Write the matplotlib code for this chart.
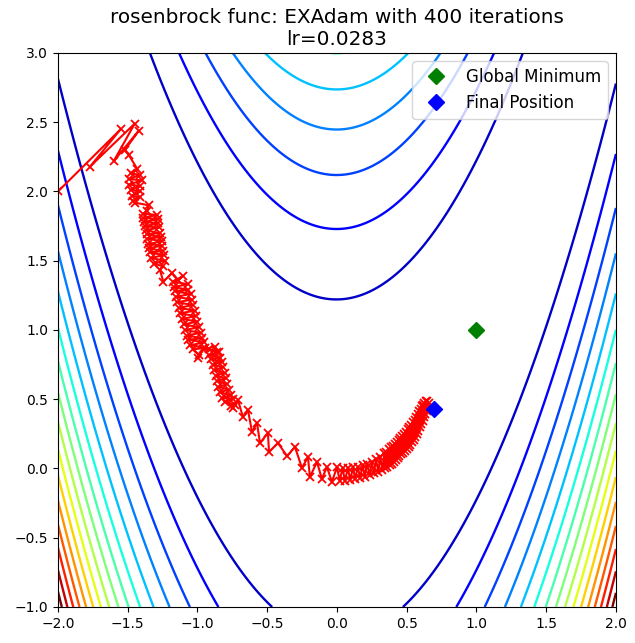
import numpy as np
import matplotlib
matplotlib.use('Agg')
import matplotlib.pyplot as plt

optimizer_name = 'EXAdam'
iterations = 400
lr = 0.0283
minimum = (1.0, 1.0)
levels = np.arange(0, 2401, 150)

# optimizer path as (x, y)
path = [
    (-2.00, 2.00), (-1.55, 2.45), (-1.77, 2.18), (-1.45, 2.49), (-1.60, 2.22),
    (-1.42, 2.44), (-1.52, 2.30), (-1.49, 2.26), (-1.43, 2.16),
    (-1.48, 2.13), (-1.41, 2.12), (-1.49, 2.09), (-1.40, 2.08), (-1.49, 2.05),
    (-1.41, 2.04), (-1.48, 2.01), (-1.41, 2.00), (-1.47, 1.97), (-1.41, 1.96),
    (-1.46, 1.93), (-1.45, 1.92),
    (-1.35, 1.90), (-1.36, 1.86),
    (-1.39, 1.84), (-1.29, 1.83), (-1.387, 1.81), (-1.285, 1.80), (-1.383, 1.78),
    (-1.281, 1.77), (-1.377, 1.75), (-1.276, 1.74), (-1.371, 1.72), (-1.271, 1.70),
    (-1.365, 1.69), (-1.265, 1.67), (-1.36, 1.66), (-1.257, 1.64), (-1.355, 1.62),
    (-1.253, 1.61), (-1.348, 1.59), (-1.247, 1.57), (-1.343, 1.56), (-1.241, 1.54),
    (-1.335, 1.52), (-1.235, 1.50), (-1.315, 1.48), (-1.25, 1.46),
    (-1.269, 1.433), (-1.245, 1.349), (-1.185, 1.409), (-1.138, 1.361), (-1.102, 1.390),
    (-1.175, 1.35), (-1.071, 1.33), (-1.17, 1.31), (-1.065, 1.29), (-1.162, 1.28),
    (-1.047, 1.26), (-1.155, 1.24), (-1.04, 1.22), (-1.145, 1.20), (-1.03, 1.18),
    (-1.135, 1.16), (-1.02, 1.14), (-1.125, 1.12), (-1.01, 1.10), (-1.11, 1.08),
    (-1.00, 1.06), (-1.10, 1.04), (-0.99, 1.02), (-1.09, 1.00), (-0.977, 0.98),
    (-1.075, 0.96), (-0.965, 0.94), (-1.065, 0.93), (-0.955, 0.91), (-1.05, 0.89),
    (-0.945, 0.87), (-1.035, 0.86), (-0.99, 0.82),
    (-0.996, 0.80), (-0.96, 0.86), (-0.875, 0.88), (-0.86, 0.84),
    (-0.92, 0.86), (-0.845, 0.84), (-0.915, 0.82), (-0.835, 0.80), (-0.905, 0.79),
    (-0.825, 0.77), (-0.89, 0.75), (-0.815, 0.73), (-0.88, 0.71), (-0.805, 0.69),
    (-0.87, 0.67), (-0.795, 0.65), (-0.86, 0.63), (-0.785, 0.61), (-0.85, 0.59),
    (-0.775, 0.57), (-0.84, 0.55), (-0.76, 0.53), (-0.825, 0.51), (-0.745, 0.50),
    (-0.805, 0.48), (-0.73, 0.46), (-0.76, 0.45), (-0.745, 0.44),
    (-0.71, 0.495), (-0.674, 0.372), (-0.638, 0.422), (-0.609, 0.264), (-0.573, 0.329),
    (-0.552, 0.184), (-0.495, 0.256), (-0.487, 0.119), (-0.423, 0.184), (-0.358, 0.090),
    (-0.301, 0.155), (-0.251, 0.004), (-0.208, 0.083), (-0.194, -0.061), (-0.143, 0.047),
    (-0.108, -0.076), (-0.072, 0.011), (-0.036, -0.097),
    (0.000, 0.010), (0.020, -0.090), (0.040, 0.005), (0.057, -0.088), (0.078, 0.002),
    (0.095, -0.082), (0.115, 0.008), (0.130, -0.076), (0.150, 0.013), (0.165, -0.071),
    (0.185, 0.025), (0.200, -0.062), (0.215, 0.035), (0.235, -0.048), (0.250, 0.048),
    (0.265, -0.035), (0.280, 0.066), (0.296, -0.022), (0.310, 0.085), (0.325, -0.010),
    (0.340, 0.110), (0.345, 0.000), (0.355, 0.122), (0.362, 0.012), (0.370, 0.140),
    (0.378, 0.022), (0.385, 0.152), (0.392, 0.036), (0.400, 0.165), (0.407, 0.048),
    (0.413, 0.178), (0.420, 0.062), (0.428, 0.192), (0.435, 0.076), (0.442, 0.206),
    (0.448, 0.090), (0.455, 0.220), (0.462, 0.102), (0.468, 0.235), (0.475, 0.115),
    (0.482, 0.250), (0.488, 0.128), (0.495, 0.265), (0.502, 0.142), (0.508, 0.282),
    (0.514, 0.157), (0.520, 0.298), (0.526, 0.172), (0.532, 0.316), (0.538, 0.190),
    (0.544, 0.334), (0.550, 0.208), (0.556, 0.352), (0.562, 0.228), (0.567, 0.372),
    (0.573, 0.250), (0.578, 0.392), (0.584, 0.272), (0.589, 0.412), (0.595, 0.296),
    (0.599, 0.430), (0.605, 0.320), (0.609, 0.448), (0.615, 0.345), (0.618, 0.462),
    (0.624, 0.370), (0.627, 0.475), (0.633, 0.395), (0.636, 0.485), (0.642, 0.418),
    (0.646, 0.488), (0.652, 0.440), (0.660, 0.470), (0.675, 0.445), (0.695, 0.430),
]


def rosenbrock(x, y):
    return (1 - x) ** 2 + 100 * (y - x ** 2) ** 2


x = np.linspace(-2, 2, 250)
y = np.linspace(-1, 3, 250)
X, Y = np.meshgrid(x, y)
Z = rosenbrock(X, Y)

fig = plt.figure(figsize=(6.35, 6.43), dpi=100)
ax = fig.add_axes([0.0913, 0.056, 0.8787, 0.8616])
ax.contour(X, Y, Z, levels=levels, cmap='jet', linewidths=1.7)

path_x, path_y = zip(*path)
ax.plot(path_x, path_y, color='r', marker='x', markersize=6, markeredgewidth=1.3)
ax.plot(*minimum, 'gD', markersize=8, label='Global Minimum')
ax.plot(path_x[-1], path_y[-1], 'bD', markersize=8, label='Final Position')

ax.set_xlim(-2, 2)
ax.set_ylim(-1, 3)
ax.legend(loc='upper right', fontsize=12)
ax.set_title('rosenbrock func: {} with {} iterations\nlr={}'.format(optimizer_name, iterations, lr),
             fontsize=14.4)

fig.savefig('out.png', dpi=100)
